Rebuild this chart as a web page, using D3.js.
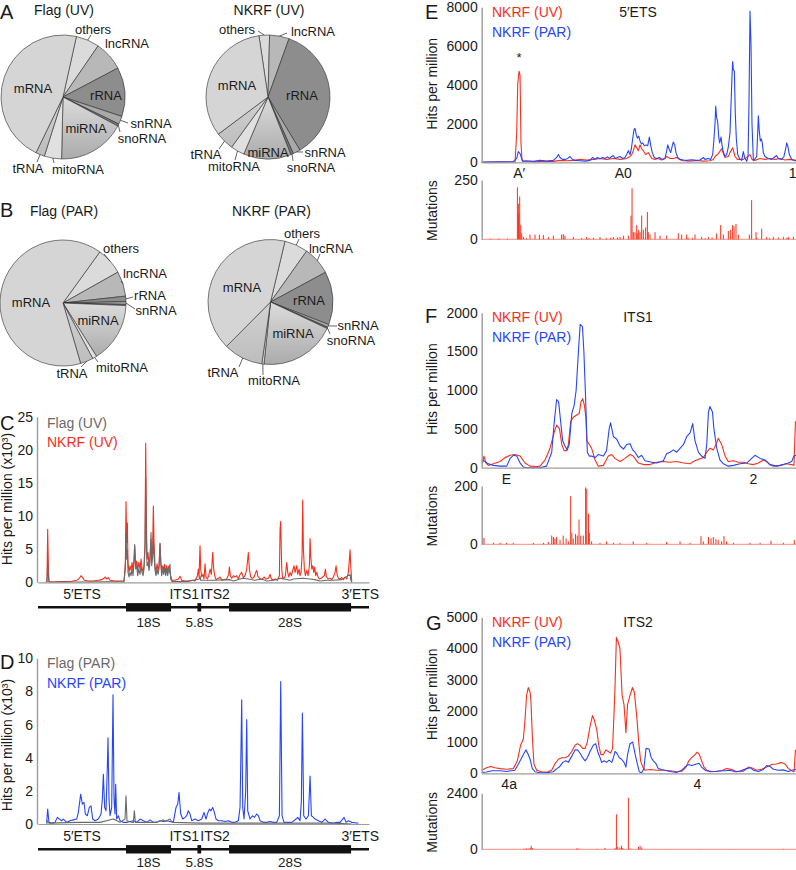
<!DOCTYPE html>
<html><head><meta charset="utf-8">
<script src="https://cdn.jsdelivr.net/npm/d3@7/dist/d3.min.js"></script>
<style>body{margin:0;background:#fff}svg{display:block}</style>
</head><body>
<svg id="fig" width="796" height="870"></svg>
<script>
// ===================== DATA =====================
const rnaCategories = ["others","lncRNA","rRNA","snRNA","snoRNA","miRNA","mitoRNA","tRNA","mRNA"];
const pieFlagUV  = [6.1, 7.7, 12.8, 2.1, 0.6, 17.6, 4.5, 2.3, 46.3];
const pieNkrfUV  = [2.75, 5.1, 35.9, 1.9, 0.7, 12.4, 3.6, 4.8, 32.9];
const pieFlagPAR = [6.9, 6.4, 1.4, 0.7, 0.3, 15.4, 1.1, 3.3, 64.4];
const pieNkrfPAR = [6.1, 7.3, 13.75, 0.75, 0.35, 19.7, 0.55, 10.2, 41.3];

// pre-rRNA map (nt)
const rrnaRegions = ["5′ETS","18S","ITS1","5.8S","ITS2","28S","3′ETS"];
const rrnaStart   = [0, 3657, 5528, 6623, 6780, 7936, 13007];
const rrnaEnd     = [3656, 5527, 6622, 6779, 7935, 13006, 13357];
const rrnaMature  = [false, true, false, true, false, true, false];
const rrnaAxisEnd = 13750;

const cTicks = [0,5,10,15,20,25];
const dTicks = [0,2,4,6,8,10];
// Panel C : [nt, hits per million x10^3]
const cNkrfUV = [[332,0],[374,0.2],[402,8.0],[429,3.0],[457,0.1],[637,0.05],[914,0.1],[1191,0.1],[1399,0.15],[1607,0.3],[1717,0.6],[1787,1.0],[1856,0.7],[1925,0.3],[2091,0.2],[2299,0.2],[2507,0.3],[2645,0.4],[2742,0.6],[2798,0.8],[2853,0.5],[2922,0.7],[2992,0.3],[3199,0.2],[3407,0.2],[3573,0.2],[3629,3.0],[3656,12.2],[3684,6.0],[3712,9.0],[3739,3.0],[3781,1.5],[3823,2.5],[3864,1.8],[3906,3.0],[3947,1.7],[3989,3.5],[4016,5.5],[4058,2.5],[4100,3.2],[4141,1.8],[4183,3.0],[4238,2.0],[4280,3.5],[4321,2.2],[4363,1.5],[4404,2.5],[4446,6.0],[4474,21.0],[4501,10.0],[4529,3.5],[4570,4.5],[4612,2.5],[4654,4.0],[4695,6.5],[4723,3.0],[4764,5.5],[4792,11.5],[4820,6.0],[4861,2.5],[4903,1.5],[4944,2.8],[4986,1.8],[5027,2.5],[5069,5.9],[5097,3.5],[5138,1.5],[5180,2.5],[5221,1.8],[5263,2.7],[5304,1.5],[5346,2.5],[5388,1.6],[5429,2.4],[5471,1.5],[5512,1.0],[5568,0.3],[5692,0.3],[5831,0.5],[5900,0.9],[5969,0.3],[6108,0.2],[6246,0.2],[6385,0.3],[6523,0.2],[6620,1.0],[6662,2.0],[6689,0.8],[6731,5.5],[6759,2.0],[6800,0.8],[6856,1.2],[6897,0.5],[6939,2.8],[6980,0.8],[7036,0.5],[7091,1.0],[7147,2.0],[7202,1.2],[7257,4.5],[7299,2.0],[7340,1.0],[7396,0.4],[7493,0.6],[7562,0.8],[7631,0.3],[7728,0.4],[7839,0.5],[7922,1.2],[7950,2.3],[7991,1.0],[8047,0.6],[8116,1.0],[8185,0.8],[8255,1.0],[8324,0.5],[8393,1.2],[8462,1.5],[8532,0.7],[8601,1.0],[8670,2.0],[8739,4.5],[8781,2.0],[8836,0.8],[8906,0.6],[8975,0.8],[9044,1.5],[9086,1.8],[9127,1.0],[9196,0.6],[9293,0.4],[9390,0.8],[9473,0.5],[9570,0.6],[9640,1.2],[9695,0.5],[9778,0.4],[9861,0.5],[9944,0.3],[10027,1.0],[10055,8.0],[10083,9.2],[10124,2.0],[10166,0.5],[10221,0.6],[10277,1.0],[10332,3.0],[10374,1.5],[10415,0.8],[10471,1.5],[10526,1.0],[10581,1.8],[10637,2.5],[10678,1.5],[10748,2.5],[10789,1.2],[10844,2.0],[10886,1.0],[10928,1.5],[10969,4.0],[10997,12.4],[11025,5.0],[11066,2.0],[11108,1.0],[11163,1.8],[11218,1.0],[11274,2.5],[11302,6.6],[11329,4.0],[11371,2.0],[11412,2.5],[11454,1.5],[11495,2.3],[11537,1.0],[11579,1.5],[11634,0.8],[11689,0.5],[11759,0.6],[11828,0.8],[11897,1.0],[11939,2.0],[11980,0.8],[12049,0.5],[12133,0.6],[12202,0.4],[12271,0.8],[12340,1.5],[12382,2.5],[12423,1.2],[12479,0.6],[12548,0.5],[12617,0.7],[12687,0.4],[12756,0.8],[12825,0.5],[12894,1.5],[12936,3.5],[12964,4.9],[12991,2.5],[13033,0.1]];
const cFlagUV = [[332,0],[374,0.1],[402,3.3],[429,1.0],[457,0.05],[1884,0.05],[3573,0.1],[3629,2.0],[3656,7.7],[3684,3.5],[3712,5.0],[3739,1.5],[3781,0.8],[3823,1.5],[3864,1.0],[3906,2.0],[3947,1.0],[3989,3.0],[4016,5.7],[4058,2.0],[4100,2.5],[4141,1.0],[4183,2.0],[4238,1.2],[4280,2.5],[4321,1.5],[4363,1.0],[4404,2.0],[4446,5.0],[4474,15.8],[4501,7.0],[4529,2.5],[4570,3.0],[4612,1.8],[4654,3.0],[4695,7.5],[4723,2.5],[4764,4.0],[4792,7.0],[4820,4.0],[4861,1.8],[4903,1.0],[4944,2.0],[4986,1.2],[5027,2.0],[5069,5.8],[5097,3.0],[5138,1.0],[5180,2.0],[5221,1.2],[5263,2.2],[5304,1.0],[5346,2.0],[5388,1.0],[5429,2.0],[5484,2.7],[5512,0.5],[5568,0.1],[6177,0.1],[6703,0.5],[6731,1.0],[6759,0.3],[7285,0.3],[7978,0.4],[8116,0.2],[8500,0.6],[8739,0.5],[9000,0.3],[9300,0.5],[9501,0.2],[9800,0.3],[10083,0.6],[10471,0.3],[10600,0.5],[10997,0.6],[11302,0.5],[11500,0.4],[11717,0.2],[12000,0.3],[12271,0.3],[12600,0.4],[12964,1.2],[12991,0.4],[13033,0]];
// Panel D
const dNkrfPAR = [[360,0.1],[402,0.9],[457,0.1],[568,0.05],[706,0.1],[803,0.4],[886,0.3],[983,0.2],[1053,0.3],[1191,0.1],[1330,0.2],[1468,0.25],[1607,0.3],[1676,0.7],[1773,1.8],[1842,1.2],[1911,1.3],[1967,0.6],[2050,0.5],[2133,1.0],[2202,1.1],[2271,0.3],[2368,0.2],[2507,0.3],[2618,0.6],[2673,1.5],[2715,3.0],[2770,1.0],[2825,0.8],[2881,3.5],[2908,5.2],[2950,1.5],[2992,0.5],[3061,1.0],[3116,7.8],[3158,1.5],[3199,0.6],[3227,2.4],[3269,0.3],[3338,0.5],[3407,0.2],[3546,0.1],[3684,0.1],[3823,0.15],[3961,0.2],[4100,0.1],[4238,0.3],[4376,0.2],[4515,0.1],[4654,0.25],[4792,0.1],[4930,0.1],[5069,0.2],[5207,0.15],[5346,0.2],[5484,0.15],[5622,0.1],[5734,1.0],[5803,1.2],[5858,1.9],[5928,0.6],[6011,0.3],[6108,0.4],[6177,0.5],[6246,0.8],[6316,0.6],[6385,0.2],[6523,0.3],[6662,0.2],[6800,0.3],[6897,0.7],[6980,0.3],[7036,0.6],[7119,0.9],[7188,0.8],[7257,1.0],[7327,0.7],[7396,0.3],[7493,0.2],[7631,0.2],[7770,0.15],[7908,0.2],[8047,0.1],[8185,0.1],[8324,0.2],[8393,1.0],[8435,4.8],[8462,7.5],[8504,1.0],[8559,0.3],[8628,2.0],[8670,6.3],[8712,0.8],[8808,0.3],[8906,0.5],[8989,0.4],[9086,0.6],[9155,0.5],[9224,0.2],[9362,0.1],[9501,0.1],[9640,0.15],[9778,0.1],[9917,0.1],[10027,0.5],[10083,8.6],[10138,0.5],[10221,0.1],[10332,0.1],[10540,0.1],[10720,0.3],[10789,0.4],[10886,0.2],[10941,1.4],[10983,6.7],[11038,0.5],[11135,0.3],[11232,0.5],[11302,2.9],[11357,0.5],[11440,0.4],[11509,0.3],[11648,0.2],[11786,0.1],[11925,0.3],[12063,0.1],[12271,0.05],[12410,0.1],[12548,0.1],[12714,0.4],[12797,0.1],[12894,0.2],[13033,0.1],[13310,0.05]];
const dFlagPAR = [[360,0],[402,0.2],[457,0.05],[1607,0.1],[2576,0.1],[3130,0.3],[3407,0.1],[3615,0.3],[3656,1.7],[3698,0.2],[3892,0.1],[3961,0.1],[4003,0.8],[4044,0.1],[4376,0.1],[4723,0.1],[4930,0.1],[5207,0.25],[5277,0.15],[5346,0.2],[5484,0.3],[5553,0.15],[5622,0.1],[6731,0.05],[8116,0.05],[12271,0.05],[13033,0]];

// Panel E : 5'ETS (nt)
const eLength = 3656;
const eTicks = [0,2000,4000,6000,8000];
const eSites = ["A′","A0","1"];
const eSitePos = [431, 1641, 3610];
const eNkrfUV = [[0,0],[213,10],[388,20],[407,1500],[419,4000],[434,4700],[446,4500],[457,1000],[469,100],[485,40],[601,30],[717,50],[834,50],[911,100],[989,80],[1066,100],[1144,150],[1221,120],[1299,150],[1376,200],[1454,150],[1531,200],[1609,150],[1686,200],[1725,300],[1745,400],[1764,600],[1783,900],[1803,750],[1822,600],[1842,900],[1861,700],[1880,600],[1907,400],[1938,500],[1958,350],[1977,200],[2016,150],[2055,200],[2094,120],[2132,200],[2152,300],[2171,250],[2191,200],[2229,200],[2268,250],[2299,150],[2346,80],[2423,60],[2501,90],[2578,60],[2656,80],[2694,150],[2714,300],[2753,450],[2791,700],[2811,450],[2830,250],[2869,300],[2888,500],[2919,750],[2947,300],[2974,150],[3005,150],[3043,150],[3082,250],[3121,400],[3144,150],[3179,100],[3237,200],[3295,150],[3354,200],[3412,150],[3470,200],[3528,120],[3586,150],[3656,100]];
const eNkrfPAR = [[0,10],[213,20],[368,30],[407,200],[426,550],[446,450],[461,250],[477,60],[523,80],[601,50],[678,100],[756,60],[834,100],[872,250],[892,400],[911,250],[942,150],[969,150],[1000,200],[1027,300],[1055,150],[1086,100],[1144,80],[1202,60],[1260,100],[1291,250],[1318,150],[1345,250],[1376,180],[1407,250],[1434,200],[1461,280],[1485,200],[1512,300],[1531,350],[1551,200],[1578,250],[1609,300],[1640,200],[1667,250],[1686,400],[1706,600],[1725,400],[1741,700],[1756,1200],[1772,1700],[1783,1750],[1799,1400],[1810,1250],[1826,1350],[1842,1100],[1857,950],[1873,1000],[1892,850],[1911,900],[1931,850],[1950,1300],[1965,900],[1984,500],[2007,250],[2036,200],[2067,250],[2098,150],[2132,200],[2152,600],[2164,900],[2179,700],[2198,500],[2214,800],[2229,1050],[2245,900],[2260,500],[2280,250],[2307,150],[2346,120],[2384,100],[2443,130],[2501,100],[2539,120],[2578,250],[2597,150],[2636,200],[2663,150],[2687,400],[2702,1200],[2714,2000],[2722,2900],[2733,2300],[2745,2100],[2757,1300],[2768,1000],[2784,1300],[2795,900],[2807,600],[2830,300],[2850,400],[2869,800],[2888,1500],[2900,3000],[2912,4500],[2919,5200],[2927,4800],[2939,4700],[2950,2500],[2962,1200],[2978,400],[3005,150],[3024,100],[3043,550],[3059,250],[3082,50],[3098,300],[3109,3000],[3121,7800],[3133,6000],[3144,2000],[3160,100],[3183,200],[3199,300],[3210,1500],[3218,2400],[3229,1600],[3241,1100],[3253,1200],[3264,1000],[3276,500],[3295,300],[3334,200],[3373,150],[3400,250],[3431,350],[3450,200],[3489,150],[3516,300],[3536,700],[3548,1000],[3563,800],[3579,400],[3606,150],[3633,100],[3656,80]];
const eMutTicks = [0,250];
const eMutations = [[100,3],[200,4],[300,3],[415,219],[426,150],[430,110],[442,180],[454,60],[465,25],[485,10],[520,5],[562,20],[620,20],[671,20],[717,18],[775,10],[834,15],[930,20],[950,22],[969,15],[1066,10],[1163,5],[1221,10],[1250,5],[1300,6],[1376,10],[1450,5],[1500,6],[1531,10],[1580,8],[1609,10],[1648,15],[1706,15],[1737,100],[1749,215],[1764,30],[1783,30],[1803,60],[1815,25],[1826,40],[1842,30],[1861,100],[1880,40],[1907,50],[1927,115],[1938,30],[1958,20],[2016,30],[2074,15],[2152,15],[2287,25],[2326,20],[2384,20],[2400,8],[2450,6],[2481,20],[2559,10],[2600,5],[2636,10],[2680,8],[2733,25],[2780,60],[2811,20],[2869,35],[2896,40],[2919,60],[2935,55],[2958,65],[2985,20],[3113,20],[3140,165],[3191,30],[3200,6],[3257,45],[3315,10],[3350,5],[3392,10],[3450,8],[3509,10],[3550,6],[3567,10],[3625,10]];

// Panel F : ITS1 (nt)
const fLength = 1095;
const fTicks = [0,500,1000,1500,2000];
const fSites = ["E","2"];
const fSitePos = [84, 945];
const fNkrfUV = [[0,80],[3,60],[8,150],[15,60],[23,30],[41,50],[64,80],[81,130],[99,160],[116,170],[134,150],[151,60],[168,20],[192,15],[203,20],[221,100],[238,250],[252,450],[261,550],[271,500],[279,300],[287,220],[296,220],[302,300],[310,600],[319,650],[331,680],[340,700],[346,850],[352,890],[358,800],[363,650],[366,350],[375,300],[383,250],[395,100],[406,20],[424,30],[441,150],[453,170],[464,120],[482,80],[499,120],[517,170],[528,150],[546,60],[563,40],[586,40],[610,70],[633,80],[656,70],[679,80],[703,60],[726,50],[737,80],[749,100],[772,130],[784,200],[795,250],[807,230],[819,320],[824,380],[836,300],[848,150],[859,80],[877,90],[894,70],[912,70],[929,50],[946,40],[964,60],[981,100],[993,80],[1004,40],[1016,20],[1039,30],[1062,50],[1080,40],[1088,30],[1093,600]];
const fNkrfPAR = [[0,100],[12,80],[23,50],[41,30],[64,20],[87,20],[99,120],[110,160],[122,150],[134,60],[145,10],[157,0],[203,0],[226,20],[244,200],[253,600],[261,880],[268,850],[275,600],[282,350],[290,280],[298,230],[305,300],[314,700],[322,800],[329,1000],[337,1500],[343,1850],[351,1820],[356,1500],[362,900],[368,200],[375,150],[383,150],[395,130],[406,170],[424,150],[435,220],[444,500],[449,580],[459,400],[470,370],[482,280],[494,240],[505,300],[517,310],[526,230],[534,200],[546,130],[557,160],[569,90],[581,80],[592,70],[610,60],[633,90],[644,180],[656,200],[668,230],[679,200],[691,250],[703,300],[714,400],[726,450],[735,570],[743,350],[755,200],[766,150],[778,120],[784,300],[790,720],[795,790],[804,720],[809,500],[819,250],[830,100],[842,50],[859,20],[877,30],[900,50],[923,60],[935,100],[952,160],[970,120],[987,100],[1004,40],[1028,20],[1051,40],[1068,60],[1080,80],[1088,150],[1095,160]];
const fMutTicks = [0,200];
const fMutations = [[3,20],[8,22],[41,5],[64,5],[87,5],[110,5],[180,5],[215,5],[232,8],[244,30],[250,25],[255,20],[261,25],[273,15],[284,30],[294,20],[302,10],[310,165],[314,40],[319,20],[327,35],[333,30],[339,85],[345,30],[354,30],[362,195],[366,190],[372,105],[375,40],[383,10],[412,5],[435,10],[459,5],[482,5],[528,10],[575,5],[644,8],[691,10],[726,5],[764,28],[772,10],[790,25],[799,20],[807,25],[816,18],[824,15],[836,10],[844,28],[853,10],[877,5],[935,5],[970,5],[1008,12],[1051,5],[1089,15]];

// Panel G : ITS2 (nt)
const gLength = 1155;
const gTicks = [0,1000,2000,3000,4000,5000];
const gSites = ["4a","4"];
const gSitePos = [99, 791];
const gNkrfUV = [[0,100],[18,180],[33,220],[49,180],[67,150],[92,130],[116,150],[131,400],[143,900],[153,1100],[159,1700],[165,2500],[171,2750],[178,2600],[181,2300],[186,1200],[192,300],[202,100],[220,50],[239,30],[257,100],[269,300],[282,450],[294,500],[306,500],[318,550],[331,700],[343,900],[352,950],[361,900],[371,800],[380,800],[388,1000],[398,1500],[407,1850],[414,1700],[423,1400],[430,900],[438,600],[447,600],[456,750],[465,700],[474,650],[481,800],[489,2500],[495,4350],[502,4200],[508,4000],[516,2500],[523,2200],[530,1300],[536,2200],[545,2500],[554,2750],[561,2600],[570,1800],[577,1000],[584,400],[592,200],[600,100],[619,120],[643,100],[668,100],[692,80],[717,50],[735,60],[751,200],[761,400],[772,500],[784,600],[792,680],[800,600],[808,400],[817,200],[827,100],[845,60],[864,60],[882,80],[900,150],[919,120],[937,50],[961,60],[980,200],[992,180],[1010,100],[1029,130],[1047,200],[1066,280],[1084,300],[1102,350],[1115,300],[1127,150],[1139,80],[1148,50],[1153,750]];
const gNkrfPAR = [[0,30],[18,40],[37,80],[67,80],[92,60],[122,100],[135,300],[147,500],[156,650],[163,750],[171,600],[178,450],[186,150],[196,50],[214,20],[239,20],[263,50],[276,150],[285,200],[298,350],[309,400],[318,350],[331,550],[343,750],[352,750],[361,650],[371,500],[380,400],[388,500],[398,700],[410,900],[419,950],[426,700],[435,500],[441,350],[450,400],[459,350],[468,420],[478,350],[484,500],[490,700],[496,650],[506,500],[514,450],[523,350],[530,200],[536,600],[545,950],[555,1000],[563,650],[572,300],[579,50],[588,20],[596,150],[604,800],[615,780],[623,500],[631,400],[641,300],[649,150],[661,120],[680,80],[698,50],[717,30],[735,100],[747,200],[759,280],[772,250],[790,300],[799,320],[808,200],[821,100],[839,50],[857,60],[876,80],[894,80],[912,100],[931,50],[949,70],[974,150],[986,180],[998,100],[1017,60],[1035,120],[1047,250],[1059,220],[1072,130],[1090,100],[1108,110],[1127,60],[1139,100],[1155,120]];
const gMutTicks = [0,2400];
const gMutations = [[153,20],[159,30],[165,40],[171,30],[178,60],[182,150],[187,50],[349,40],[355,30],[423,20],[453,60],[490,50],[495,1500],[500,100],[508,80],[514,150],[518,50],[539,2200],[545,30],[576,100],[582,150],[588,80],[680,10],[802,10],[925,10],[1108,20]];

// ===================== STYLE / LAYOUT =====================
const FONT = '"Liberation Sans", Arial, Helvetica, sans-serif';
const RED = "#f7301c", BLUE = "#2746fb", GRAY = "#6a6a6a", AXIS = "#9c9c9c", INK = "#1a1a1a";
const sliceFill = {others:"#dbdbdb", lncRNA:"#b8b8b8", rRNA:"#8d8d8d", snRNA:"#a9a9a9", snoRNA:"#767676",
                   miRNA:"url(#miGrad)", mitoRNA:"#e0e0e0", tRNA:"url(#tGrad)", mRNA:"#d5d5d5"};

const svg = d3.select("#fig").style("font-family", FONT);
const defs = svg.append("defs");
const g1 = defs.append("linearGradient").attr("id","miGrad").attr("x1",0).attr("y1",0).attr("x2",0).attr("y2",1);
g1.append("stop").attr("offset","0%").attr("stop-color","#dcdcdc");
g1.append("stop").attr("offset","100%").attr("stop-color","#ababab");
const g2 = defs.append("linearGradient").attr("id","tGrad").attr("x1",0).attr("y1",0).attr("x2",0).attr("y2",1);
g2.append("stop").attr("offset","0%").attr("stop-color","#d2d2d2");
g2.append("stop").attr("offset","100%").attr("stop-color","#bdbdbd");

function txt(x, y, s, o = {}) {
  return svg.append("text").attr("x", x).attr("y", y)
    .attr("font-size", o.size || 14).attr("fill", o.fill || INK)
    .attr("text-anchor", o.anchor || "start").attr("dy", o.dy == null ? "0.35em" : o.dy)
    .text(s);
}
function rtxt(x, y, s, o = {}) {
  return svg.append("text").attr("transform", `translate(${x},${y}) rotate(-90)`)
    .attr("font-size", o.size || 14).attr("fill", o.fill || INK).attr("text-anchor", "middle").text(s);
}

// panel letters
[["A",0,19],["B",0,217],["C",0,430],["D",0,669],["E",425,19],["F",425,323],["G",426,630]]
  .forEach(([t,x,y]) => txt(x, y, t, {size: 20, dy: 0}));

// ===================== PIES =====================
const pieLayouts = [
  {title:"Flag (UV)", values: pieFlagUV, cx:63, cy:97, r:62, start:12.5, ty:14.5,
   labels:{mRNA:[33,88], others:[93,29,91,35], lncRNA:[127,43], rRNA:[106,95], snRNA:[151,123.5,128,123],
           snoRNA:[142,138.5,120,132], miRNA:[86,128], mitoRNA:[78,169,54,163], tRNA:[28,168,37,162]}},
  {title:"NKRF (UV)", values: pieNkrfUV, cx:268, cy:97, r:62, start:-8.4, ty:14.5,
   labels:{others:[237,29,258,31], lncRNA:[313,31,287,33], mRNA:[237,85], rRNA:[302,95], snRNA:[325,152.5,303,152],
           snoRNA:[311,167.5,293,161], miRNA:[268,152], mitoRNA:[234,166,235,160], tRNA:[206,154,219,149]}},
  {title:"Flag (PAR)", values: pieFlagPAR, cx:63, cy:303, r:63, start:35.8, ty:216,
   labels:{others:[121,248,104,254], lncRNA:[145,273,121,281], rRNA:[150,295.5,133,297], snRNA:[156,310.5,135,309],
           mRNA:[31,302], miRNA:[98,320], tRNA:[72,373,81,367], mitoRNA:[122,367,98,362]}},
  {title:"NKRF (PAR)", values: pieNkrfPAR, cx:270.5, cy:302, r:62.5, start:13.4, ty:216,
   labels:{others:[302,233,299,239], lncRNA:[331,248,320,254], mRNA:[242,287], rRNA:[309,300], snRNA:[358,325.5,337,326],
           snoRNA:[351,340.5,330,334], miRNA:[293,333], tRNA:[223,372,239,367], mitoRNA:[274,380,263,375]}}
];

pieLayouts.forEach(p => {
  txt(p.cx + 1, p.ty, p.title, {anchor: "middle", dy: 0});
  const a0 = p.start * Math.PI / 180;
  const pie = d3.pie().sort(null).startAngle(a0).endAngle(a0 + 2 * Math.PI);
  const arcs = pie(p.values);
  const arc = d3.arc().innerRadius(0).outerRadius(p.r);
  const rim = d3.arc().innerRadius(p.r).outerRadius(p.r);
  const g = svg.append("g").attr("transform", `translate(${p.cx},${p.cy})`);
  g.selectAll("path.slice").data(arcs).join("path").attr("class","slice")
    .attr("d", arc).attr("fill", (d, i) => sliceFill[rnaCategories[i]])
    .attr("stroke", "#2b2b2b").attr("stroke-width", 0.6).attr("stroke-linejoin","round");
  arcs.forEach((a, i) => {
    const L = p.labels[rnaCategories[i]];
    if (!L) return;
    if (L.length > 2) {
      const c = rim.centroid(a);
      g.append("line").attr("x1", L[2] - p.cx).attr("y1", L[3] - p.cy).attr("x2", c[0]).attr("y2", c[1])
        .attr("stroke", "#222").attr("stroke-width", 0.7);
    }
    g.append("text").attr("x", L[0] - p.cx).attr("y", L[1] - p.cy).attr("dy", "0.35em")
      .attr("text-anchor", "middle").attr("font-size", 13).attr("fill", INK).text(rnaCategories[i]);
  });
});

// ===================== HELPERS =====================
function leftAxis(scale, x, ticks, o = {}) {
  const g = svg.append("g").attr("transform", `translate(${x},0)`)
    .call(d3.axisLeft(scale).tickValues(ticks).tickSize(0).tickSizeOuter(0).tickPadding(o.pad || 4).tickFormat(d3.format("d")));
  g.select(".domain").attr("stroke", AXIS).attr("stroke-width", o.w || 1.4);
  g.selectAll("text").attr("font-size", 14).attr("fill", INK).attr("font-family", FONT);
  return g;
}
function baseLine(xs, y, color, w) {
  const g = svg.append("g").attr("transform", `translate(0,${y})`)
    .call(d3.axisBottom(xs).tickValues([]).tickSizeOuter(0));
  g.select(".domain").attr("stroke", color || AXIS).attr("stroke-width", w || 1.2);
}
function siteAxis(xs, y, names, pos) {
  const g = svg.append("g").attr("transform", `translate(0,${y})`)
    .call(d3.axisBottom(xs).tickValues(pos).tickFormat((d, i) => names[i]).tickSize(0).tickPadding(0));
  g.select(".domain").remove();
  g.selectAll("text").attr("font-size", 14).attr("fill", INK).attr("font-family", FONT).attr("dy", "0.35em");
}
function profile(xs, ys, data, color, w) {
  svg.append("path").datum(data).attr("fill", "none").attr("stroke", color)
    .attr("stroke-width", w || 1.1).attr("stroke-linejoin", "round")
    .attr("d", d3.line().x(d => xs(d[0])).y(d => ys(d[1])));
}
function mutationBars(xs, ys, data) {
  svg.append("path").datum(xs.domain()).attr("stroke", RED).attr("stroke-opacity", 0.55).attr("stroke-width", 1)
    .attr("d", d => `M${xs(d[0])},${ys(0)}H${xs(d[1])}`);
  svg.append("g").selectAll("line").data(data).join("line")
    .attr("x1", d => xs(d[0])).attr("x2", d => xs(d[0]))
    .attr("y1", ys(0)).attr("y2", d => ys(d[1]))
    .attr("stroke", RED).attr("stroke-width", 1);
}
function rrnaMap(xs, y, below) {
  svg.append("path").datum(xs.domain()).attr("stroke", "#111").attr("stroke-width", 2.4)
    .attr("d", d => `M${xs(d[0])},${y}H${xs(d[1])}`);
  rrnaRegions.forEach((name, i) => {
    const mid = xs((rrnaStart[i] + rrnaEnd[i]) / 2);
    if (rrnaMature[i]) {
      svg.append("rect").attr("x", xs(rrnaStart[i])).attr("width", xs(rrnaEnd[i]) - xs(rrnaStart[i]))
        .attr("y", y - 4.2).attr("height", 8.4).attr("fill", "#111");
      txt(mid, y + below, name, {anchor: "middle", size: 13.5});
    } else {
      txt(mid + (name === "3′ETS" ? 5 : 0), y - 13, name, {anchor: "middle"});
    }
  });
}

// ===================== PANEL C =====================
const xC = d3.scaleLinear().domain([0, rrnaAxisEnd]).range([38, 369]);
const yC = d3.scaleLinear().domain([0, 25]).range([582.3, 416.7]);
profile(xC, yC, cNkrfUV, RED, 1.1);
profile(xC, yC, cFlagUV, GRAY, 1.1);
leftAxis(yC, 37, cTicks);
baseLine(xC, 582.3);
rtxt(12, 499, "Hits per million (x10³)");
txt(47, 423, "Flag (UV)", {fill: GRAY});
txt(47, 442, "NKRF (UV)", {fill: RED});
rrnaMap(xC, 607.3, 14.5);

// ===================== PANEL D =====================
const yD = d3.scaleLinear().domain([0, 10]).range([824, 658.3]);
profile(xC, yD, dNkrfPAR, BLUE, 1.1);
profile(xC, yD, dFlagPAR, GRAY, 1.1);
leftAxis(yD, 37, dTicks);
baseLine(xC, 824);
rtxt(12, 745, "Hits per million (x10³)");
txt(47, 663.5, "Flag (PAR)", {fill: GRAY});
txt(47, 683.5, "NKRF (PAR)", {fill: BLUE});
rrnaMap(xC, 849.3, 12.5);

// ===================== PANELS E, F, G =====================
const RX = [481.7, 796];
function regionPanel(o) {
  const xs = d3.scaleLinear().domain([0, o.len]).range(RX);
  const ys = d3.scaleLinear().domain([0, o.ticks[o.ticks.length - 1]]).range(o.yr);
  const ym = d3.scaleLinear().domain([0, o.mticks[1]]).range(o.mr);
  profile(xs, ys, o.uv, RED, 1.1);
  profile(xs, ys, o.par, BLUE, 1.1);
  leftAxis(ys, RX[0], o.ticks);
  baseLine(xs, o.yr[0]);
  siteAxis(xs, o.siteY, o.sites, o.sitePos);
  mutationBars(xs, ym, o.mut);
  leftAxis(ym, RX[0], o.mticks);
  rtxt(437, (o.yr[0] + o.yr[1]) / 2 - 1, "Hits per million");
  rtxt(437, (o.mr[0] + o.mr[1]) / 2 + 1, "Mutations");
  txt(492, o.legY, "NKRF (UV)", {fill: RED});
  txt(492, o.legY + 19.5, "NKRF (PAR)", {fill: BLUE});
  txt(638, o.legY, o.name, {anchor: "middle"});
  return {xs, ys};
}
const E = regionPanel({len: eLength, ticks: eTicks, yr: [162.3, 7.3], mticks: eMutTicks, mr: [239.3, 180],
  uv: eNkrfUV, par: eNkrfPAR, mut: eMutations, sites: eSites, sitePos: eSitePos, siteY: 173, legY: 12.5, name: "5′ETS"});
txt(E.xs(434), E.ys(4700) - 14, "*", {anchor: "middle", size: 13});
regionPanel({len: fLength, ticks: fTicks, yr: [467.7, 312.7], mticks: fMutTicks, mr: [544.3, 486],
  uv: fNkrfUV, par: fNkrfPAR, mut: fMutations, sites: fSites, sitePos: fSitePos, siteY: 479, legY: 317.5, name: "ITS1"});
regionPanel({len: gLength, ticks: gTicks, yr: [773.3, 617.3], mticks: gMutTicks, mr: [849.3, 793.3],
  uv: gNkrfUV, par: gNkrfPAR, mut: gMutations, sites: gSites, sitePos: gSitePos, siteY: 784, legY: 622.5, name: "ITS2"});
</script>
</body></html>
